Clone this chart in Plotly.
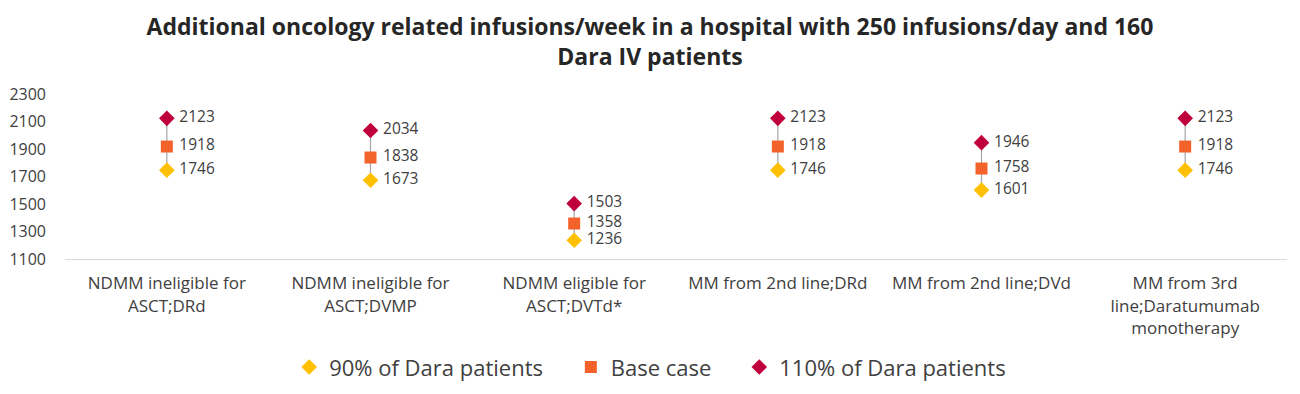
import plotly.graph_objects as go

categories = [
    "NDMM ineligible for<br>ASCT;DRd",
    "NDMM ineligible for<br>ASCT;DVMP",
    "NDMM eligible for<br>ASCT;DVTd*",
    "MM from 2nd line;DRd",
    "MM from 2nd line;DVd",
    "MM from 3rd<br>line;Daratumumab<br>monotherapy",
]
low_90 = [1746, 1673, 1236, 1746, 1601, 1746]
base_case = [1918, 1838, 1358, 1918, 1758, 1918]
high_110 = [2123, 2034, 1503, 2123, 1946, 2123]
y_ticks = [1100, 1300, 1500, 1700, 1900, 2100, 2300]
series_names = ["90% of Dara patients", "Base case", "110% of Dara patients"]

FONT = "'Open Sans', sans-serif"
TXT = "#404040"
PAD = "\u00a0" * 4

fig = go.Figure()

# connector lines
cx, cy = [], []
for c, lo, hi in zip(categories, low_90, high_110):
    cx += [c, c, None]
    cy += [lo, hi, None]
fig.add_trace(go.Scatter(x=cx, y=cy, mode="lines", line=dict(color="#A6A6A6", width=1.2),
                         showlegend=False, hoverinfo="skip"))

styles = [("diamond", "#FFC000"), ("square", "#F4622C"), ("diamond", "#C0003C")]
for name, vals, (sym, col) in zip(series_names, [low_90, base_case, high_110], styles):
    fig.add_trace(go.Scatter(
        x=categories, y=vals, name=name + PAD, mode="markers+text",
        marker=dict(symbol=sym, color=col, size=12),
        text=[" " + str(v) for v in vals], textposition="middle right",
        textfont=dict(family=FONT, size=15.5, color=TXT),
    ))

fig.update_layout(
    width=1300, height=394,
    paper_bgcolor="white", plot_bgcolor="white",
    margin=dict(l=65, r=13, t=94, b=135),
    title=dict(
        text="<b>Additional oncology related infusions/week in a hospital with 250 infusions/day and 160<br>Dara IV patients</b>",
        x=0.5, xanchor="center", yref="container", y=0.911, yanchor="top",
        font=dict(family=FONT, size=23, color="#262626"),
    ),
    font=dict(family=FONT, color=TXT),
    legend=dict(orientation="h", xref="container", x=0.509, xanchor="center",
                yref="container", y=0.068, yanchor="middle",
                font=dict(family=FONT, size=22, color=TXT), itemsizing="constant"),
    xaxis=dict(range=[-0.5, 5.5], automargin=False, showgrid=False, showline=True,
               linecolor="#D9D9D9", linewidth=1, ticklabelstandoff=9,
               tickfont=dict(family=FONT, size=17, color=TXT), ticks=""),
    yaxis=dict(range=[1100, 2300], tickvals=y_ticks, automargin=False, showgrid=False,
               zeroline=False, showline=False, ticklabelstandoff=18,
               tickfont=dict(family=FONT, size=16, color=TXT)),
)

fig.write_html("out.html", config={"displayModeBar": False},
               post_script="document.body.style.margin='0';")
